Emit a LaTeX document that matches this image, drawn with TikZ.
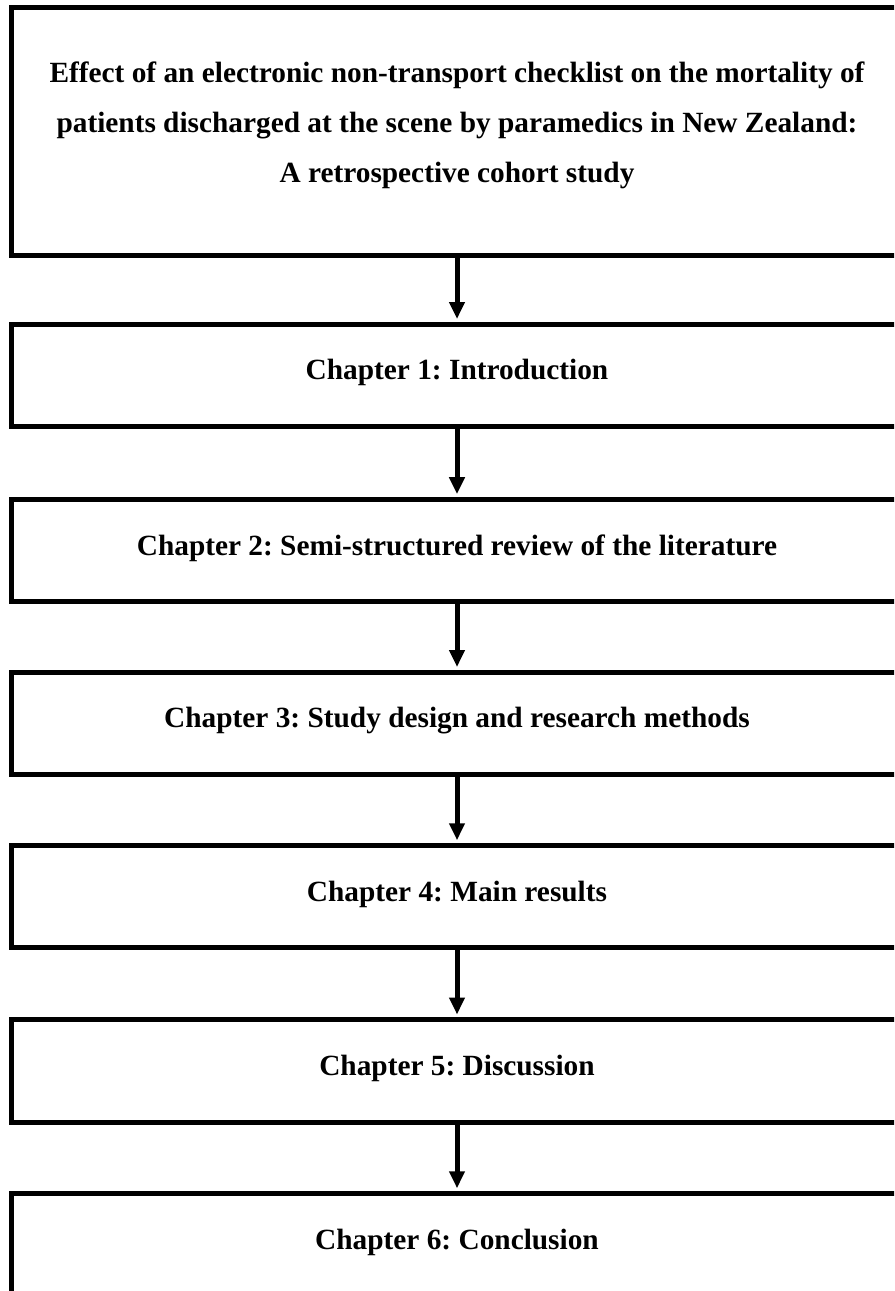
\documentclass[tikz,border=0pt]{standalone}
\usepackage{fontspec}
\setmainfont{Liberation Serif}
\usetikzlibrary{arrows.meta}
\frenchspacing
\begin{document}
\begin{tikzpicture}[x=0.75pt,y=-0.75pt,
  txt/.style={font=\bfseries\fontsize{22pt}{37.3pt}\selectfont, inner sep=0pt},
  box/.style={txt, draw=black, line width=3.75pt, minimum width=669pt},
  chbox/.style={box, minimum height=76.875pt, text height=21.9pt, text depth=15pt},
  flow/.style={line width=3.75pt, -{Triangle[width=11.25pt,length=12.75pt]}, shorten >=1.875pt}]
\clip (0,0) rectangle (894,1291);
\fill[white] (0,0) rectangle (894,1291);
\node[box, minimum height=186pt] (t) at (457,131.5) {};
\node[txt, align=center] (tt) at (457,125.2) {Effect of an electronic non-transport checklist on the mortality of\\patients discharged at the scene by paramedics in New Zealand:\\A retrospective cohort study};
\node[chbox] (c1) at (457,375.25) {Chapter 1: Introduction};
\node[chbox] (c2) at (457,550.4) {Chapter 2: Semi-structured review of the literature};
\node[chbox] (c3) at (457,723.25) {Chapter 3: Study design and research methods};
\node[chbox] (c4) at (457,896.5) {Chapter 4: Main results};
\node[chbox] (c5) at (457,1070.75) {Chapter 5: Discussion};
\node[chbox] (c6) at (457,1244.5) {Chapter 6: Conclusion};
\draw[flow] (t.south) -- (c1.north);
\draw[flow] (c1.south) -- (c2.north);
\draw[flow] (c2.south) -- (c3.north);
\draw[flow] (c3.south) -- (c4.north);
\draw[flow] (c4.south) -- (c5.north);
\draw[flow] (c5.south) -- (c6.north);
\end{tikzpicture}
\end{document}
